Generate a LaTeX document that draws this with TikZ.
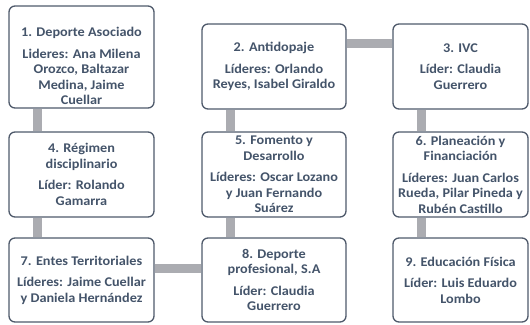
\documentclass[tikz,border=0pt]{standalone}
\usepackage{fontspec}
\setmainfont{Carlito}[FakeStretch=1.07]
\usetikzlibrary{calc}

\definecolor{arealine}{HTML}{4F5A6B}
\definecolor{areatext}{HTML}{44546A}
\definecolor{linkgrey}{HTML}{ABACB1}

\begin{document}
\begin{tikzpicture}[
        x=1pt, y=-1pt,
        area/.style={draw=arealine, line width=1.3pt, rounded corners=6pt, fill=white,
          text=areatext, font=\bfseries\fontsize{13.3}{15.5}\selectfont, align=center,
          inner sep=0pt, minimum height=85},
        link/.style={draw=linkgrey, line width=9pt},
      ]

      \useasboundingbox (0,0) rectangle (530,324);

      % top row
      \node[area, minimum width=145, minimum height=102] (asociado) at (81.5,57)
        {\rule{0pt}{28pt}1. Deporte Asociado\\[6pt]Lideres: Ana Milena\\Orozco, Baltazar\\Medina, Jaime\\Cuellar};
      \node[area, minimum width=144] (antidopaje) at (274,66.5)
        {2. Antidopaje\\[6pt]Líderes: Orlando\\Reyes, Isabel Giraldo};
      \node[area, minimum width=135] (ivc) at (460.5,66.5)
        {3. IVC\\[6pt]Líder: Claudia\\Guerrero};

      % middle row
      \node[area, minimum width=145] (regimen) at (81.5,174.5)
        {4. Régimen\\disciplinario\\[6pt]Líder: Rolando\\Gamarra};
      \node[area, minimum width=144] (fomento) at (274,174.5)
        {5. Fomento y\\Desarrollo\\[6pt]Líderes: Oscar Lozano\\y Juan Fernando\\Suárez};
      \node[area, minimum width=135] (planeacion) at (460.5,174.5)
        {6. Planeación y\\Financiación\\[6pt]Líderes: Juan Carlos\\Rueda, Pilar Pineda y\\Rubén Castillo};

      % bottom row
      \node[area, minimum width=145, minimum height=84] (entes) at (81.5,280)
        {7. Entes Territoriales\\[6pt]Líderes: Jaime Cuellar\\y Daniela Hernández};
      \node[area, minimum width=144, minimum height=84] (profesional) at (274,280)
        {8. Deporte\\profesional, S.A\\[6pt]Líder: Claudia\\Guerrero};
      \node[area, minimum width=135, minimum height=84] (fisica) at (460.5,280)
        {9. Educación Física\\[6pt]Líder: Luis Eduardo\\Lombo};

      % links
      \draw[link] ($(asociado.south west)+(29,0)$) -- ($(regimen.north west)+(29,0)$);
      \draw[link] ($(regimen.south west)+(29,0)$) -- ($(entes.north west)+(29,0)$);
      \draw[link] ($(entes.north east)+(0,31)$) -- ($(profesional.north west)+(0,31)$);
      \draw[link] ($(profesional.north west)+(29,0)$) -- ($(fomento.south west)+(29,0)$);
      \draw[link] ($(fomento.north west)+(29,0)$) -- ($(antidopaje.south west)+(29,0)$);
      \draw[link] ($(antidopaje.north east)+(0,20)$) -- ($(ivc.north west)+(0,20)$);
      \draw[link] ($(ivc.south west)+(29,0)$) -- ($(planeacion.north west)+(29,0)$);
      \draw[link] ($(planeacion.south west)+(29,0)$) -- ($(fisica.north west)+(29,0)$);

    \end{tikzpicture}
\end{document}
